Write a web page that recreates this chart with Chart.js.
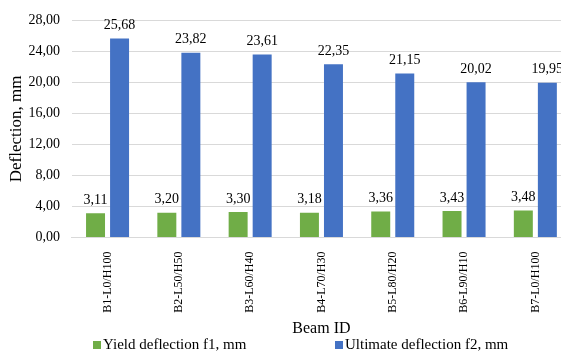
<!DOCTYPE html>
<html>
<head>
<meta charset="utf-8">
<script src="https://cdn.jsdelivr.net/npm/chart.js@4.4.0/dist/chart.umd.min.js"></script>
<style>
  html, body { margin: 0; padding: 0; background: #fff; overflow: hidden; }
  #box { width: 575px; height: 355px; }
</style>
</head>
<body>
<div id="box"><canvas id="grafico"></canvas></div>
<script>
const vigas = ["B1-L0/H100", "B2-L50/H50", "B3-L60/H40", "B4-L70/H30", "B5-L80/H20", "B6-L90/H10", "B7-L0/H100"];
const flechaF1 = [3.11, 3.20, 3.30, 3.18, 3.36, 3.43, 3.48];
const flechaF2 = [25.68, 23.82, 23.61, 22.35, 21.15, 20.02, 19.95];
const nomesSeries = ["Yield deflection f1, mm", "Ultimate deflection f2, mm"];

const fonte = '"Liberation Serif", "Times New Roman", serif';
const corVerde = "#70AD47";
const corAzul = "#4472C4";

function virgula(v) {
    return v.toFixed(2).replace(".", ",");
}

// rotulos em cima das barras
const rotulosPlugin = {
    id: "rotulos",
    afterDatasetsDraw(chart) {
        const ctx = chart.ctx;
        ctx.save();
        ctx.font = "14px " + fonte;
        ctx.fillStyle = "#000";
        ctx.textAlign = "center";
        ctx.textBaseline = "bottom";
        chart.data.datasets.forEach((ds, i) => {
            const meta = chart.getDatasetMeta(i);
            meta.data.forEach((bar, j) => {
                ctx.fillText(virgula(ds.data[j]), bar.x, bar.y - 6);
            });
        });
        ctx.restore();
    }
};

// legenda manual (espaçamento largo como no original)
const legendaPlugin = {
    id: "legenda",
    afterDraw(chart) {
        const ctx = chart.ctx;
        ctx.save();
        ctx.font = "15px " + fonte;
        ctx.textBaseline = "middle";
        const y = 345;
        const itens = [
            { x: 93, cor: corVerde, texto: nomesSeries[0] },
            { x: 335, cor: corAzul, texto: nomesSeries[1] }
        ];
        itens.forEach(it => {
            ctx.fillStyle = it.cor;
            ctx.fillRect(it.x, y - 4, 8, 8);
            ctx.fillStyle = "#000";
            ctx.fillText(it.texto, it.x + 10, y);
        });
        ctx.restore();
    }
};

const ctx = document.getElementById("grafico").getContext("2d");
new Chart(ctx, {
    type: "bar",
    data: {
        labels: vigas,
        datasets: [
            {
                label: nomesSeries[0],
                data: flechaF1,
                backgroundColor: corVerde,
                categoryPercentage: 0.674,
                barPercentage: 0.79
            },
            {
                label: nomesSeries[1],
                data: flechaF2,
                backgroundColor: corAzul,
                categoryPercentage: 0.674,
                barPercentage: 0.79
            }
        ]
    },
    options: {
        responsive: true,
        maintainAspectRatio: false,
        animation: false,
        layout: { padding: { top: 14, right: 4, bottom: 17, left: 0 } },
        plugins: {
            legend: { display: false },
            tooltip: { enabled: false }
        },
        scales: {
            x: {
                grid: { display: false },
                border: { color: "#d9d9d9" },
                ticks: {
                    minRotation: 90,
                    maxRotation: 90,
                    padding: 6,
                    color: "#000",
                    font: { family: fonte, size: 12 }
                },
                title: {
                    display: true,
                    text: "Beam ID",
                    color: "#000",
                    padding: { top: 0, bottom: 0 },
                    font: { family: fonte, size: 16 }
                }
            },
            y: {
                min: 0,
                max: 28,
                ticks: {
                    stepSize: 4,
                    padding: 12,
                    color: "#000",
                    font: { family: fonte, size: 14 },
                    callback: v => virgula(v)
                },
                grid: { color: "#d9d9d9", drawTicks: false },
                border: { display: false },
                title: {
                    display: true,
                    text: "Deflection, mm",
                    color: "#000",
                    padding: { top: 6, bottom: -10 },
                    font: { family: fonte, size: 17 }
                }
            }
        }
    },
    plugins: [rotulosPlugin, legendaPlugin]
});
</script>
</body>
</html>
